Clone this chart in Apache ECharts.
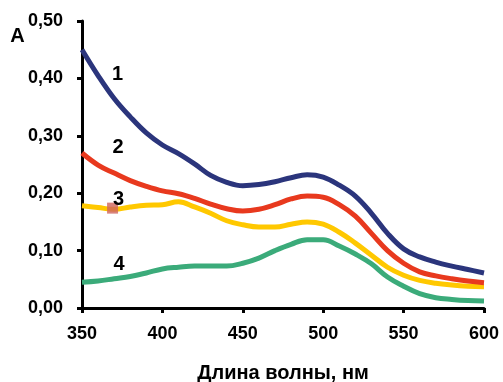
<!DOCTYPE html>
<html><head><meta charset="utf-8">
<script src="https://cdn.jsdelivr.net/npm/echarts@6/dist/echarts.min.js"></script>
<style>html,body{margin:0;padding:0;background:#fff}#c{width:503px;height:382px}</style>
</head><body><div id="c"></div>
<script>
const wavelengths = [350,360,370,380,390,400,410,420,430,440,450,460,470,480,490,500,510,520,530,540,550,560,570,580,590,600];
const curve1 = [0.450,0.405,0.365,0.333,0.305,0.284,0.269,0.251,0.231,0.219,0.213,0.215,0.220,0.227,0.232,0.228,0.214,0.195,0.165,0.130,0.103,0.089,0.080,0.073,0.067,0.061];
const curve2 = [0.270,0.249,0.235,0.222,0.212,0.204,0.199,0.191,0.181,0.173,0.169,0.172,0.180,0.190,0.195,0.193,0.180,0.160,0.130,0.100,0.078,0.063,0.056,0.051,0.047,0.044];
const curve3 = [0.178,0.175,0.172,0.176,0.179,0.180,0.185,0.176,0.165,0.152,0.145,0.141,0.141,0.146,0.150,0.146,0.132,0.113,0.092,0.071,0.057,0.048,0.043,0.040,0.038,0.037];
const curve4 = [0.045,0.047,0.051,0.055,0.061,0.068,0.071,0.073,0.073,0.073,0.078,0.087,0.100,0.111,0.119,0.119,0.108,0.094,0.077,0.054,0.038,0.025,0.018,0.015,0.013,0.012];
const markerPoint = [[369, 0.174]];
const seriesNames = ['1','2','3','4'];
const xTitle = 'Длина волны, нм';
const yTitle = 'A';

const colors = ['#2b357c','#e8391e','#ffc800','#3bab7a'];
const curves = [curve1, curve2, curve3, curve4];
const font = '"Liberation Sans", Arial, sans-serif';

const chart = echarts.init(document.getElementById('c'), null, {renderer:'canvas'});
const series = curves.map((c, i) => ({
  name: seriesNames[i], type: 'line', smooth: 0.4, symbol: 'none',
  data: wavelengths.map((w, j) => [w, c[j]]),
  lineStyle: {width: 5, color: colors[i]}, z: 10 - i
}));
series.push({type:'scatter', data: markerPoint, symbol:'rect', symbolSize: 11,
  itemStyle:{color:'#d0645c'}, z: 20});

const labelPos = [[117.5,74],[118,147],[118.5,199.5],[119,264.5]];
const txt = (s, x, y, size) => ({type:'text', x: x, y: y, z: 50,
  style:{text: s, font: 'bold ' + size + 'px ' + font, fill:'#000', textAlign:'center', textVerticalAlign:'middle'}});

chart.setOption({
  animation: false,
  grid: {left: 82, right: 19, top: 21, bottom: 74, containLabel: false, outerBoundsMode: 'none'},
  xAxis: {
    type: 'value', min: 350, max: 600, interval: 50,
    name: xTitle, nameLocation: 'middle', nameGap: 55,
    nameTextStyle: {fontFamily: font, fontWeight: 'bold', fontSize: 20, color: '#000'},
    axisLine: {lineStyle: {color: '#000', width: 3}},
    axisTick: {show: true, length: 5, lineStyle: {color: '#000', width: 3}},
    axisLabel: {fontFamily: font, fontWeight: 'bold', fontSize: 18, color: '#000', margin: 17},
    splitLine: {show: false}
  },
  yAxis: {
    type: 'value', min: 0, max: 0.5, interval: 0.1,
    axisLine: {show: true, lineStyle: {color: '#000', width: 3}},
    axisTick: {show: true, length: 5, lineStyle: {color: '#000', width: 3}},
    axisLabel: {fontFamily: font, fontWeight: 'bold', fontSize: 18, color: '#000', margin: 19,
      formatter: v => v.toFixed(2).replace('.', ',')},
    splitLine: {show: false}
  },
  graphic: [txt(yTitle, 17.5, 36, 20)].concat(seriesNames.map((s, i) => txt(s, labelPos[i][0], labelPos[i][1], 20))),
  series: series
});
</script></body></html>
